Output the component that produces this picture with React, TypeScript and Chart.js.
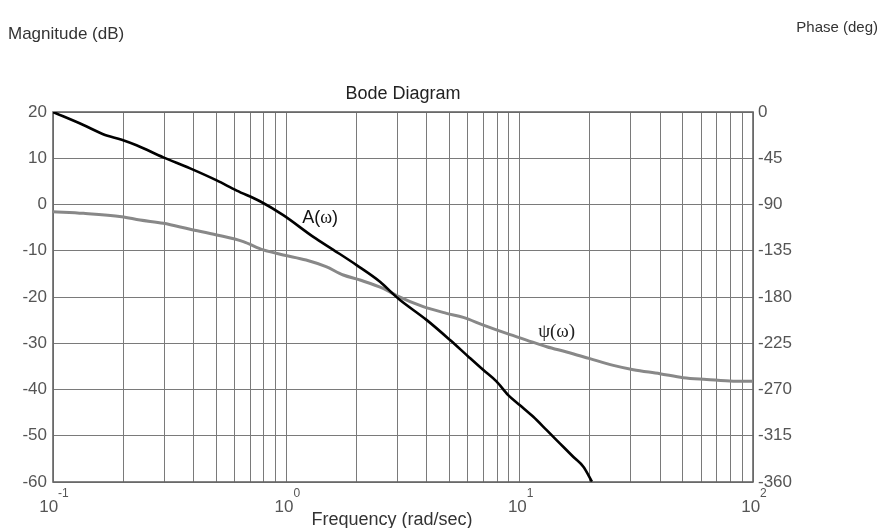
import React, { useEffect, useRef } from "react";
import { Chart, registerables } from "chart.js";

Chart.register(...registerables);

// Magnitude curve A(ω)
const magFreq = [0.1, 0.135, 0.164, 0.197, 0.228, 0.297, 0.387, 0.503, 0.613, 0.771, 0.97, 1.305, 1.59, 2.0, 2.52, 2.92, 3.07, 4.0, 5.03, 6.03, 6.99, 7.97, 8.93, 10.03, 11.44, 13.06, 14.9, 17.0, 18.75, 20.4];
const magDb = [20, 17.2, 15.2, 14.0, 12.8, 10.2, 7.8, 5.2, 3.0, 0.7, -2.3, -7.0, -9.8, -13.1, -16.7, -19.7, -20.65, -25, -29.3, -32.9, -35.8, -38.3, -41.2, -43.4, -45.9, -48.8, -51.7, -54.6, -56.7, -59.9];

// Phase curve ψ(ω)
const phFreq = [0.1, 0.135, 0.197, 0.236, 0.297, 0.387, 0.503, 0.654, 0.797, 0.97, 1.215, 1.48, 1.754, 2.07, 2.6, 2.97, 3.86, 4.86, 5.73, 6.99, 8.79, 10.7, 13.06, 15.9, 20.0, 25.2, 30.7, 39.9, 50.2, 63.3, 82.4, 100];
const phDeg = [-97, -98.6, -101.9, -105.1, -108.3, -114.1, -119.6, -126.1, -134.2, -139.1, -144, -150.5, -158.6, -163.5, -171.6, -178.6, -189.4, -195.9, -199.8, -207.3, -215.4, -221.9, -228.4, -233.5, -240, -246.5, -250.7, -254.6, -258.5, -260.2, -261.9, -261.9];

const decadeExponents = [-1, 0, 1, 2];
const magTicks = { min: -60, max: 20, step: 10 };
const phaseTicks = { min: -360, max: 0, step: 45 };

const titleText = "Bode Diagram";
const xTitle = "Frequency (rad/sec)";
const yLeftTitle = "Magnitude (dB)";
const yRightTitle = "Phase (deg)";

const FONT = "'Liberation Sans', Arial, sans-serif";

const textPlugin = {
  id: "bodeText",
  beforeDatasetsDraw(chart: any) {
    const { ctx, chartArea } = chart;
    ctx.save();
    ctx.strokeStyle = "#666";
    ctx.lineWidth = 1.6;
    ctx.strokeRect(chartArea.left, chartArea.top, chartArea.right - chartArea.left, chartArea.bottom - chartArea.top);
    ctx.restore();
  },
  afterDraw(chart: any) {
    const { ctx, chartArea, scales } = chart;
    const xs = scales.x;
    ctx.save();
    // title
    ctx.fillStyle = "#222";
    ctx.font = `18px ${FONT}`;
    ctx.textAlign = "center";
    ctx.textBaseline = "alphabetic";
    ctx.fillText(titleText, (chartArea.left + chartArea.right) / 2, 99);
    // axis titles
    ctx.fillStyle = "#333";
    ctx.font = `17px ${FONT}`;
    ctx.textAlign = "left";
    ctx.fillText(yLeftTitle, 8, 39);
    ctx.font = `15px ${FONT}`;
    ctx.textAlign = "right";
    ctx.fillText(yRightTitle, 878, 32);
    ctx.font = `18px ${FONT}`;
    ctx.textAlign = "center";
    ctx.fillText(xTitle, (chartArea.left + chartArea.right) / 2 - 11, 525);
    // decade labels
    ctx.fillStyle = "#555";
    for (const e of decadeExponents) {
      const px = xs.getPixelForValue(Math.pow(10, e));
      ctx.font = `17px ${FONT}`;
      const w1 = ctx.measureText("10").width;
      ctx.font = `12px ${FONT}`;
      const sup = String(e);
      const w2 = ctx.measureText(sup).width;
      const start = px - (w1 + w2) / 2 + 1;
      ctx.textAlign = "left";
      ctx.font = `17px ${FONT}`;
      ctx.fillText("10", start, 512);
      ctx.font = `12px ${FONT}`;
      ctx.fillText(sup, start + w1, 497);
    }
    // curve annotations
    const ys = scales.y;
    const y1 = scales.y1;
    ctx.fillStyle = "#111";
    ctx.textBaseline = "middle";
    let ax = xs.getPixelForValue(1.17);
    const ay = ys.getPixelForValue(-2.9);
    ctx.font = `18px ${FONT}`;
    ctx.fillText("A(", ax, ay);
    ax += ctx.measureText("A(").width;
    ctx.font = `18px 'Liberation Serif', serif`;
    ctx.fillText("ω", ax, ay);
    ax += ctx.measureText("ω").width;
    ctx.font = `18px ${FONT}`;
    ctx.fillText(")", ax, ay);
    ctx.fillStyle = "#222";
    ctx.font = `19px 'Liberation Serif', serif`;
    ctx.fillText("ψ(ω)", xs.getPixelForValue(12.0), y1.getPixelForValue(-213.8));
    ctx.restore();
  },
};

export default function App() {
  const ref = useRef<HTMLCanvasElement>(null);
  useEffect(() => {
    if (!ref.current) return;
    const chart = new Chart(ref.current, {
      type: "line",
      data: {
        datasets: [
          {
            label: "A(ω)",
            data: magFreq.map((f, i) => ({ x: f, y: magDb[i] })),
            borderColor: "#000",
            borderWidth: 2.6,
            pointRadius: 0,
            cubicInterpolationMode: "monotone",
            yAxisID: "y",
          },
          {
            label: "ψ(ω)",
            data: phFreq.map((f, i) => ({ x: f, y: phDeg[i] })),
            borderColor: "#888",
            borderWidth: 3,
            pointRadius: 0,
            cubicInterpolationMode: "monotone",
            yAxisID: "y1",
          },
        ],
      },
      options: {
        responsive: false,
        maintainAspectRatio: false,
        animation: false,
        devicePixelRatio: 1,
        layout: { padding: { top: 112, left: 0, right: 0, bottom: 0 } },
        plugins: { legend: { display: false }, title: { display: false }, tooltip: { enabled: false } },
        scales: {
          x: {
            type: "logarithmic",
            min: 0.1,
            max: 100,
            afterBuildTicks: (s: any) => {
              const t: any[] = [];
              for (let e = -1; e < 2; e++) {
                for (let m = 1; m < 10; m++) t.push({ value: m * Math.pow(10, e) });
              }
              t.push({ value: 100 });
              s.ticks = t;
            },
            ticks: { display: false },
            grid: { color: "#7a7a7a", lineWidth: 1, drawTicks: false },
            border: { display: false },
            afterFit: (s: any) => {
              s.height = 46;
            },
          },
          y: {
            position: "left",
            min: magTicks.min,
            max: magTicks.max,
            ticks: { stepSize: magTicks.step, color: "#555", font: { size: 17, family: FONT }, padding: 6 },
            grid: { color: "#7a7a7a", lineWidth: 1, drawTicks: false },
            border: { display: false },
            afterFit: (s: any) => {
              s.width = 53;
            },
          },
          y1: {
            position: "right",
            min: phaseTicks.min,
            max: phaseTicks.max,
            ticks: { stepSize: phaseTicks.step, color: "#555", font: { size: 17, family: FONT }, padding: 5 },
            grid: { display: false, drawTicks: false },
            border: { display: false },
            afterFit: (s: any) => {
              s.width = 127;
            },
          },
        },
      },
      plugins: [textPlugin],
    } as any);
    return () => chart.destroy();
  }, []);
  return (
    <div style={{ position: "absolute", left: 0, top: 0, width: 880, height: 528, background: "#fff" }}>
      <canvas ref={ref} width={880} height={528} />
    </div>
  );
}
